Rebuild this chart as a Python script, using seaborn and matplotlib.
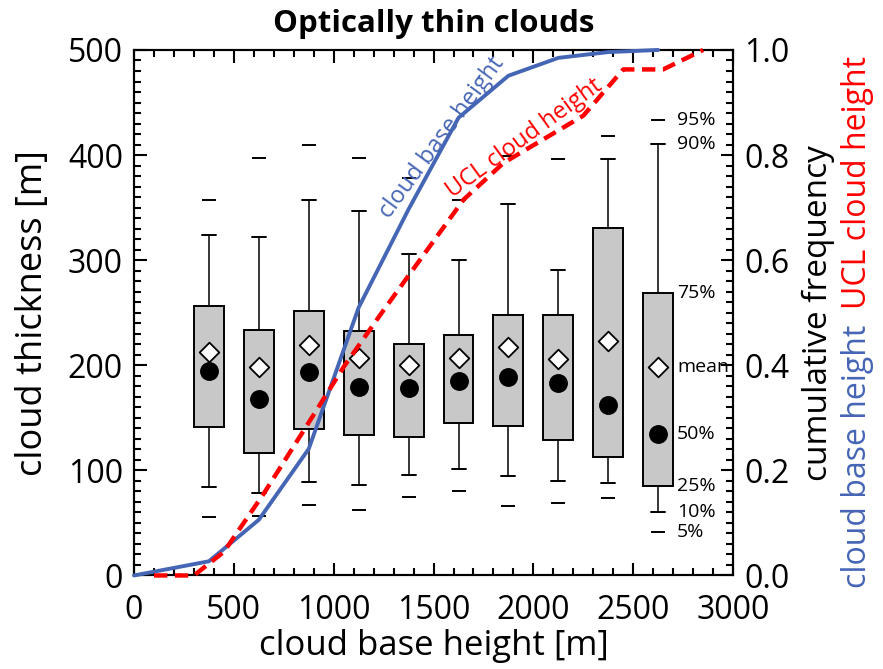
import matplotlib
matplotlib.use("Agg")
import matplotlib.pyplot as plt
from matplotlib.ticker import MultipleLocator, FormatStrFormatter
import numpy as np
import pandas as pd
import seaborn as sns

# ---- data ----
positions = [375, 625, 875, 1125, 1375, 1625, 1875, 2125, 2375, 2625]
p5 = [56, 57, 67, 62, 75, 80, 66, 69, 74, 41]
p10 = [84, 78, 89, 86, 96, 101, 95, 90, 88, 60]
p25 = [141, 117, 139, 134, 132, 145, 142, 129, 113, 85]
p50 = [195, 168, 194, 179, 178, 185, 189, 183, 162, 135]
means = [213, 198, 219, 207, 200, 207, 217, 206, 223, 198]
p75 = [256, 234, 252, 233, 220, 229, 248, 248, 331, 269]
p90 = [324, 322, 357, 347, 306, 300, 353, 291, 396, 411]
p95 = [357, 397, 410, 397, 378, 357, 399, 396, 418, 433]

cbh_x = [0, 375, 625, 875, 1125, 1375, 1625, 1875, 2125, 2375, 2625]
cbh_cum = [0.0, 0.027, 0.106, 0.241, 0.51, 0.697, 0.871, 0.951, 0.985, 0.996, 1.0]

ucl_x = [100, 300, 450, 650, 850, 1050, 1250, 1450, 1650, 1850, 2050, 2250, 2450, 2650, 2850]
ucl_cum = [0.0, 0.0, 0.045, 0.156, 0.276, 0.397, 0.505, 0.61, 0.715, 0.785, 0.83, 0.875, 0.963, 0.963, 1.0]

pct_labels = ["95%", "90%", "75%", "mean", "50%", "25%", "10%", "5%"]

BLUE = "#4565b5"
RED = "#ff0000"

sns.set_theme(style="ticks")
plt.rcParams['font.family'] = ['Open Sans', 'DejaVu Sans']
plt.rcParams['axes.linewidth'] = 1.5
for k in ['text.color', 'axes.labelcolor', 'xtick.color', 'ytick.color', 'axes.edgecolor']:
    plt.rcParams[k] = 'black'

fig = plt.figure(figsize=(8.83, 6.69), dpi=100)
ax = fig.add_axes([0.1518, 0.1398, 0.6784, 0.7855])

# boxes
stats = [dict(med=m, q1=a, q3=b, whislo=lo, whishi=hi, fliers=[])
         for m, a, b, lo, hi in zip(p50, p25, p75, p10, p90)]
ax.bxp(stats, positions=positions, widths=150, showfliers=False, patch_artist=True,
       boxprops=dict(facecolor='#c8c8c8', edgecolor='black', linewidth=1.4),
       whiskerprops=dict(color='black', linewidth=1.1),
       capprops=dict(color='black', linewidth=1.4),
       medianprops=dict(linewidth=0), capwidths=70, manage_ticks=False)

# 5% / 95% dashes
lo = [p - 35 for p in positions]
hi = [p + 35 for p in positions]
ax.hlines(p5, lo, hi, color='black', linewidth=1.4)
ax.hlines(p95, lo, hi, color='black', linewidth=1.4)

df = pd.DataFrame(dict(pos=positions, med=p50, mean=means))
sns.scatterplot(data=df, x='pos', y='med', ax=ax, color='black', s=185,
                marker='o', edgecolor='black', linewidth=0, zorder=4)
sns.scatterplot(data=df, x='pos', y='mean', ax=ax, color='white', s=100,
                marker='D', edgecolor='black', linewidth=1.3, zorder=5)

# percentile labels next to the last box
lab_vals = [p95[-1], p90[-1], p75[-1], means[-1], p50[-1], p25[-1], p10[-1], p5[-1]]
for t, v in zip(pct_labels, lab_vals):
    ax.text(2720, v, t, ha='left', va='center', fontsize=14, color='black')

ax.set_xlim(0, 3000)
ax.set_ylim(0, 500)
ax.xaxis.set_major_locator(MultipleLocator(500))
ax.xaxis.set_minor_locator(MultipleLocator(100))
ax.yaxis.set_major_locator(MultipleLocator(100))
ax.yaxis.set_minor_locator(MultipleLocator(10))
ax.tick_params(which='both', direction='in', top=True, right=False, width=1.5,
               labelsize=23, colors='black', pad=8)
ax.tick_params(axis='x', which='both', pad=13)
ax.tick_params(which='major', length=9)
ax.tick_params(which='minor', length=5)
ax.set_xlabel("cloud base height [m]", fontsize=25, labelpad=2)
ax.set_ylabel("cloud thickness [m]", fontsize=26, labelpad=12)
ax.set_title("Optically thin clouds", fontsize=22.5, fontweight='bold', pad=13)

# cumulative frequency axis
ax2 = ax.twinx()
sns.lineplot(x=cbh_x, y=cbh_cum, ax=ax2, color=BLUE, linewidth=2.8, estimator=None,
             clip_on=False, zorder=6)
sns.lineplot(x=ucl_x, y=ucl_cum, ax=ax2, color=RED, linewidth=3.2, estimator=None,
             dashes=(3, 1.7), clip_on=False, zorder=6)
ax2.set_ylim(0, 1)
ax2.set_xlim(0, 3000)
ax2.yaxis.set_major_locator(MultipleLocator(0.2))
ax2.yaxis.set_minor_locator(MultipleLocator(0.02))
ax2.yaxis.set_major_formatter(FormatStrFormatter('%.1f'))
ax2.tick_params(which='both', direction='in', width=1.5, labelsize=23, pad=8,
                colors='black')
ax2.tick_params(which='major', length=9)
ax2.tick_params(which='minor', length=5)
ax2.set_ylabel("cumulative frequency", fontsize=24, labelpad=9)
for s in ax2.spines.values():
    s.set_linewidth(1.5)

ax2.text(1545, 0.833, "cloud base height", color=BLUE, fontsize=17, rotation=53.6,
         rotation_mode='anchor', ha='center', va='center')
ax2.text(1955, 0.832, "UCL cloud height", color=RED, fontsize=17, rotation=36,
         rotation_mode='anchor', ha='center', va='center')

ax2.text(1.207, 0.478, "cloud base height", color=BLUE, fontsize=23, rotation=90,
         transform=ax2.transAxes, ha='center', va='top')
ax2.text(1.207, 0.508, "UCL cloud height", color=RED, fontsize=23, rotation=90,
         transform=ax2.transAxes, ha='center', va='bottom')

fig.savefig("out.png", dpi=100)
